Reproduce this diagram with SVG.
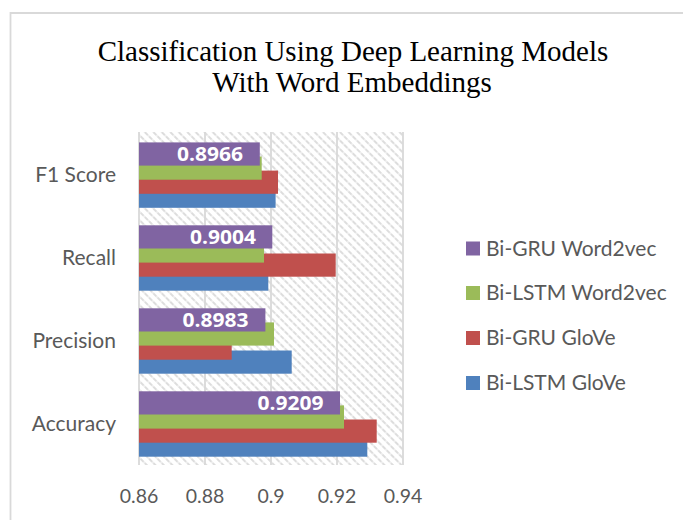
<svg xmlns="http://www.w3.org/2000/svg" width="683" height="520" viewBox="0 0 683 520">
  <defs>
    <pattern id="hatch" width="6" height="6" patternUnits="userSpaceOnUse" patternTransform="rotate(45)">
      <line x1="0" y1="3" x2="6" y2="3" stroke="#d2d2d2" stroke-width="1.6" stroke-dasharray="2.5 1"/>
    </pattern>
  </defs>
  <style>
    .title { font-family: "Liberation Serif", "Times New Roman", serif; font-size: 29px; fill: #000; }
    .cat { font-family: Lato, "Liberation Sans", sans-serif; font-size: 21px; fill: #595959; text-anchor: end; }
    .tick { font-family: Lato, "Liberation Sans", sans-serif; font-size: 19.5px; fill: #595959; text-anchor: middle; }
    .leg { font-family: Lato, "Liberation Sans", sans-serif; font-size: 21px; fill: #595959; }
    .val { font-family: "Open Sans", "Liberation Sans", sans-serif; font-size: 19px; font-weight: bold; fill: #fff; text-anchor: end; }
    .grid { stroke: #d9d9d9; stroke-width: 1.8; }
    .blue { fill: #4f81bd; }
    .red { fill: #c0504d; }
    .green { fill: #9bbb59; }
    .purple { fill: #8064a2; }
  </style>

  <rect x="0" y="0" width="683" height="520" fill="#fff"/>
  <!-- chart frame -->
  <path d="M10.5 520 V13 H683" fill="none" stroke="#d9d9d9" stroke-width="1.8"/>

  <!-- title -->
  <g id="title">
    <text class="title" x="353" y="61" text-anchor="middle">Classification Using Deep Learning Models</text>
    <text class="title" x="352" y="92" text-anchor="middle">With Word Embeddings</text>
  </g>

  <!-- plot area -->
  <g id="plot">
    <rect x="139" y="132" width="264" height="333" fill="url(#hatch)"/>
    <line class="grid" x1="139" y1="132" x2="139" y2="465"/>
    <line class="grid" x1="205" y1="132" x2="205" y2="465"/>
    <line class="grid" x1="271" y1="132" x2="271" y2="465"/>
    <line class="grid" x1="337" y1="132" x2="337" y2="465"/>
    <line class="grid" x1="403" y1="132" x2="403" y2="465"/>
  </g>

  <!-- bars: x = 139 + (v - 0.86) * 3300 -->
  <g id="f1-score">
    <rect class="blue" x="139" y="184.6" width="136.6" height="23.2"/>
    <rect class="red" x="139" y="170.6" width="139" height="23.2"/>
    <rect class="green" x="139" y="156.5" width="122.7" height="23.2"/>
    <rect class="purple" x="139" y="142.4" width="120.8" height="23.2"/>
    <text class="val" x="243" y="161" textLength="66" lengthAdjust="spacingAndGlyphs">0.8966</text>
  </g>
  <g id="recall">
    <rect class="blue" x="139" y="267.5" width="129.3" height="23.2"/>
    <rect class="red" x="139" y="253.5" width="196.7" height="23.2"/>
    <rect class="green" x="139" y="239.4" width="125" height="23.2"/>
    <rect class="purple" x="139" y="225.3" width="133.3" height="23.2"/>
    <text class="val" x="256" y="244" textLength="66" lengthAdjust="spacingAndGlyphs">0.9004</text>
  </g>
  <g id="precision">
    <rect class="blue" x="139" y="350.5" width="152.7" height="23.2"/>
    <rect class="red" x="139" y="336.5" width="92.7" height="23.2"/>
    <rect class="green" x="139" y="322.4" width="135" height="23.2"/>
    <rect class="purple" x="139" y="308.3" width="126.4" height="23.2"/>
    <text class="val" x="248.5" y="327" textLength="66" lengthAdjust="spacingAndGlyphs">0.8983</text>
  </g>
  <g id="accuracy">
    <rect class="blue" x="139" y="433.5" width="228.3" height="23.2"/>
    <rect class="red" x="139" y="419.5" width="237.7" height="23.2"/>
    <rect class="green" x="139" y="405.4" width="205" height="23.2"/>
    <rect class="purple" x="139" y="391.3" width="201" height="23.2"/>
    <text class="val" x="323.5" y="410" textLength="66" lengthAdjust="spacingAndGlyphs">0.9209</text>
  </g>

  <!-- category axis -->
  <g id="category-axis">
    <text class="cat" x="116" y="182">F1 Score</text>
    <text class="cat" x="116" y="265">Recall</text>
    <text class="cat" x="116" y="348">Precision</text>
    <text class="cat" x="116" y="431">Accuracy</text>
  </g>

  <!-- value axis -->
  <g id="value-axis">
    <text class="tick" x="139" y="503">0.86</text>
    <text class="tick" x="205" y="503">0.88</text>
    <text class="tick" x="271" y="503">0.9</text>
    <text class="tick" x="337" y="503">0.92</text>
    <text class="tick" x="403" y="503">0.94</text>
  </g>

  <!-- legend -->
  <g id="legend">
    <rect class="purple" x="466" y="241.5" width="14" height="14"/>
    <text class="leg" x="486" y="255.5">Bi-GRU Word2vec</text>
    <rect class="green" x="466" y="286" width="14" height="14"/>
    <text class="leg" x="486" y="300">Bi-LSTM Word2vec</text>
    <rect class="red" x="466" y="331" width="14" height="14"/>
    <text class="leg" x="486" y="345">Bi-GRU GloVe</text>
    <rect class="blue" x="466" y="376" width="14" height="14"/>
    <text class="leg" x="486" y="390">Bi-LSTM GloVe</text>
  </g>
</svg>
